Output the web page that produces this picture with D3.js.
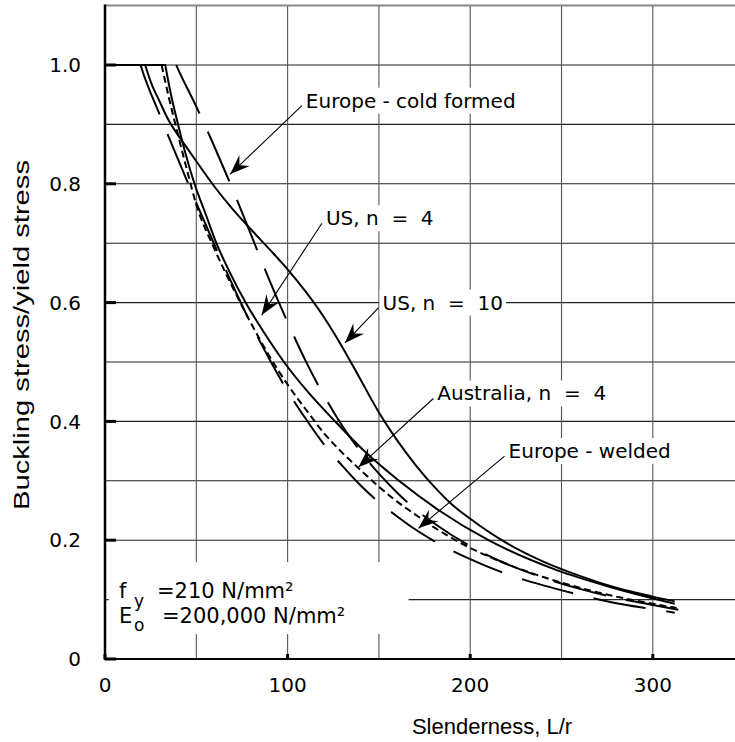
<!DOCTYPE html>
<html>
<head>
<meta charset="utf-8">
<script src="https://cdn.jsdelivr.net/npm/d3@7/dist/d3.min.js"></script>
<style>
  html, body { margin: 0; padding: 0; background: #fff; }
  text { font-family: "DejaVu Sans", sans-serif; fill: #000; white-space: pre; }
  .title { font-family: "Liberation Sans", Arial, sans-serif; }
</style>
</head>
<body>
<div id="chart"></div>
<script>
// slenderness L/r vs buckling stress / yield stress
const usN10 = [[22,1.0],[25,.972],[30,.938],[35,.906],[40,.882],[45,.86],[50,.838],[60,.795],[70,.757],[80,.723],[90,.69],[100,.656],[110,.618],[120,.575],[130,.525],[140,.47],[150,.415],[160,.368],[170,.327],[180,.291],[190,.26],[200,.236],[220,.195],[240,.164],[260,.14],[280,.12],[300,.105],[312,.097]];
const usN4 = [[33,1.0],[36,.952],[40,.9],[44,.852],[49,.8],[55,.75],[61,.7],[68,.653],[77,.6],[87,.55],[98,.5],[111,.45],[126,.4],[142,.35],[161,.3],[183,.25],[210,.2],[247,.15],[278,.12],[312,.093]];
const australiaN4 = [[31,1.0],[35,.945],[40,.882],[45,.822],[50,.765],[60,.69],[70,.625],[80,.565],[90,.51],[100,.462],[110,.42],[120,.38],[130,.347],[140,.318],[150,.29],[160,.265],[170,.243],[180,.222],[200,.187],[220,.16],[240,.138],[260,.12],[280,.105],[300,.093],[313,.086]];
const europeCold = [[39,1.0],[40,.993],[50,.93],[60,.862],[70,.79],[80,.714],[90,.638],[100,.567],[110,.501],[120,.443],[130,.392],[140,.349],[150,.312],[160,.28],[170,.252],[180,.229],[200,.19],[220,.16],[240,.137],[260,.118],[280,.103],[300,.091],[314,.083]];
const europeWelded = [[19.5,1.0],[20,.995],[30,.916],[40,.841],[50,.768],[60,.697],[70,.629],[80,.564],[90,.505],[100,.451],[110,.404],[120,.361],[130,.325],[140,.292],[150,.264],[160,.24],[170,.218],[180,.199],[200,.168],[220,.143],[240,.124],[260,.108],[280,.094],[300,.084],[312,.078]];

const xTicks = [0, 100, 200, 300];
const yTicks = [0, 0.2, 0.4, 0.6, 0.8, 1.0];
const yTickLabels = ["0", "0.2", "0.4", "0.6", "0.8", "1.0"];
const xGrid = [50, 100, 150, 200, 250, 300];
const yGrid = [0.1, 0.2, 0.3, 0.4, 0.5, 0.6, 0.7, 0.8, 0.9, 1.0];

// annotation: label, text anchor (x,y) and arrow tip (x,y) in data units
const labels = ["Europe - cold formed", "US, n  =  4", "US, n  =  10", "Australia, n  =  4", "Europe - welded"];
const labelAt = [[110, 0.94], [121, 0.742], [152, 0.6], [182, 0.447], [221, 0.35]];
const arrowTip = [[68.5, 0.816], [85.8, 0.579], [131.4, 0.532], [138.8, 0.323], [171.6, 0.22]];

const width = 735, height = 742;
const svg = d3.select("#chart").append("svg")
    .attr("width", width)
    .attr("height", height);

svg.append("rect").attr("width", width).attr("height", height).attr("fill", "#fff");

const x = d3.scaleLinear().domain([0, 345]).range([105, 735]);
const y = d3.scaleLinear().domain([0, 1.1]).range([659, 5.6]);

// grid
svg.append("g").selectAll("line")
    .data(yGrid)
    .join("line")
    .attr("x1", x(0)).attr("x2", x(345))
    .attr("y1", d => y(d)).attr("y2", d => y(d))
    .attr("stroke", "#222").attr("stroke-width", 1.1);

svg.append("g").selectAll("line")
    .data(xGrid)
    .join("line")
    .attr("x1", d => x(d)).attr("x2", d => x(d))
    .attr("y1", y(1.1)).attr("y2", y(0))
    .attr("stroke", "#555").attr("stroke-width", 1.1);

// top border
svg.append("line")
    .attr("x1", x(0)).attr("x2", x(345))
    .attr("y1", y(1.1)).attr("y2", y(1.1))
    .attr("stroke", "#888").attr("stroke-width", 2);

// white boxes behind the texts, so grid is broken there
const labelFont = 20;
const boxes = svg.append("g");

// curves
const line = d3.line()
    .x(d => x(d[0]))
    .y(d => y(d[1]))
    .curve(d3.curveMonotoneX);

function curvePath(data) {
    // flat part at 1.0 from the axis up to the first point, then the curve
    const p = line(data);
    return "M" + x(0) + "," + y(1.0) + "L" + p.slice(1);
}

const series = [
    { data: usN10, dash: null },
    { data: usN4, dash: null },
    { data: australiaN4, dash: [7, 4] },
    { data: europeCold, dash: [54, 20] },
    { data: europeWelded, dash: [53, 21] }
];

const curves = svg.append("g");
series.forEach(s => {
    const path = curves.append("path")
        .attr("d", curvePath(s.data))
        .attr("fill", "none")
        .attr("stroke", "#000")
        .attr("stroke-width", 2);
    if (s.dash) {
        // start a dash right where the curve leaves the 1.0 plateau
        const period = s.dash[0] + s.dash[1];
        const flat = x(s.data[0][0]) - x(0);
        path.attr("stroke-dasharray", s.dash.join(","))
            .attr("stroke-dashoffset", period - (flat % period));
    }
});

// annotations
const ann = svg.append("g");
labels.forEach((t, i) => {
    const tx = x(labelAt[i][0]), ty = y(labelAt[i][1]);
    const txt = ann.append("text")
        .attr("x", tx).attr("y", ty)
        .attr("dy", "0.35em")
        .attr("font-size", labelFont)
        .text(t);
    const bb = txt.node().getBBox();
    boxes.append("rect")
        .attr("x", bb.x - 3).attr("y", bb.y - 1)
        .attr("width", bb.width + 6).attr("height", bb.height + 2)
        .attr("fill", "#fff");

    const sx = tx - 4, sy = ty + 5;
    const ex = x(arrowTip[i][0]), ey = y(arrowTip[i][1]);
    ann.append("line")
        .attr("x1", sx).attr("y1", sy)
        .attr("x2", ex).attr("y2", ey)
        .attr("stroke", "#000").attr("stroke-width", 1.1);
    const ang = Math.atan2(ey - sy, ex - sx) * 180 / Math.PI;
    ann.append("path")
        .attr("d", "M0,0 L-20,-7.5 L-13,0 L-20,7.5 Z")
        .attr("transform", `translate(${ex},${ey}) rotate(${ang})`)
        .attr("fill", "#000");
});

// material text block
const note = svg.append("g").attr("font-size", 21);
boxes.append("rect")
    .attr("x", x(2)).attr("y", 562)
    .attr("width", 300).attr("height", 72)
    .attr("fill", "#fff");
const noteX = 119;
note.append("text").attr("x", noteX).attr("y", 598).text("f");
note.append("text").attr("x", noteX + 15).attr("y", 607).attr("font-size", 17).text("y");
note.append("text").attr("x", noteX + 38).attr("y", 598).text("=210 N/mm²");
note.append("text").attr("x", noteX).attr("y", 623).text("E");
note.append("text").attr("x", noteX + 15).attr("y", 631).attr("font-size", 17).text("o");
note.append("text").attr("x", noteX + 43).attr("y", 623).text("=200,000 N/mm²");

// axes
svg.append("line")
    .attr("x1", x(0)).attr("x2", x(0))
    .attr("y1", y(1.1) - 1).attr("y2", y(0) + 1)
    .attr("stroke", "#000").attr("stroke-width", 2.5);
svg.append("line")
    .attr("x1", x(0)).attr("x2", x(345))
    .attr("y1", y(0)).attr("y2", y(0))
    .attr("stroke", "#000").attr("stroke-width", 2);

svg.append("g").selectAll("line")
    .data(yTicks)
    .join("line")
    .attr("x1", x(0)).attr("x2", x(0) + 11)
    .attr("y1", d => y(d)).attr("y2", d => y(d))
    .attr("stroke", "#000").attr("stroke-width", 3);
svg.append("g").selectAll("line")
    .data(xTicks)
    .join("line")
    .attr("x1", d => x(d)).attr("x2", d => x(d))
    .attr("y1", y(0)).attr("y2", y(0) - 5)
    .attr("stroke", "#000").attr("stroke-width", 3);

svg.append("g").selectAll("text")
    .data(yTicks)
    .join("text")
    .attr("x", 81).attr("y", d => y(d))
    .attr("dy", "0.36em")
    .attr("text-anchor", "end")
    .attr("font-size", 20)
    .text((d, i) => yTickLabels[i]);

svg.append("g").selectAll("text")
    .data(xTicks)
    .join("text")
    .attr("x", d => x(d)).attr("y", 692)
    .attr("text-anchor", "middle")
    .attr("font-size", 20)
    .text(d => d);

svg.append("text")
    .attr("class", "title")
    .attr("x", 492).attr("y", 734)
    .attr("text-anchor", "middle")
    .attr("font-size", 22)
    .text("Slenderness, L/r");

svg.append("text")
    .attr("class", "title")
    .attr("transform", "translate(29,335) rotate(-90)")
    .attr("text-anchor", "middle")
    .attr("font-size", 22)
    .attr("textLength", 350)
    .attr("lengthAdjust", "spacingAndGlyphs")
    .text("Buckling stress/yield stress");
</script>
</body>
</html>
